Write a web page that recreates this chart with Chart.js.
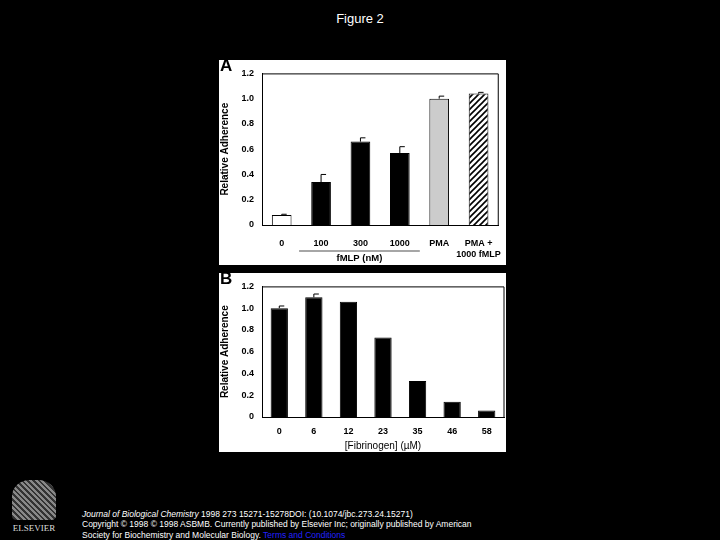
<!DOCTYPE html>
<html><head><meta charset="utf-8">
<script src="https://cdn.jsdelivr.net/npm/chart.js"></script>
<style>
body{margin:0;background:#000;width:720px;height:540px;overflow:hidden;font-family:"Liberation Sans",Arial,sans-serif;position:relative}
.pn{position:absolute;background:#fff}
#t{position:absolute;top:11px;left:0;width:720px;text-align:center;color:#fff;font-size:13px}
.ft{position:absolute;left:82px;color:#fff;font-size:8.5px;line-height:10px;white-space:nowrap}
#logo{position:absolute;left:8px;top:478px;width:52px;height:56px;color:#ddd;font-family:"Liberation Serif",serif;font-size:9px;text-align:center}
#tree{width:44px;height:40px;margin:2px auto 3px;background:repeating-linear-gradient(45deg,#888 0 2px,#333 2px 4px);border-radius:40% 40% 10% 10%}
</style></head><body>
<div id="t">Figure 2</div>
<div class="pn" style="left:219px;top:60px;width:287px;height:205px"><canvas id="a" width="287" height="205"></canvas></div>
<div class="pn" style="left:219px;top:273px;width:287px;height:179px"><canvas id="b" width="287" height="179"></canvas></div>
<div id="logo"><div id="tree"></div>ELSEVIER</div>
<div class="ft" style="top:509px"><i>Journal of Biological Chemistry</i> 1998 273 15271-15278DOI: (10.1074/jbc.273.24.15271)<br>Copyright © 1998 © 1998 ASBMB. Currently published by Elsevier Inc; originally published by American</div>
<div class="ft" style="top:530px">Society for Biochemistry and Molecular Biology. <span style="color:#22f">Terms and Conditions</span></div>
<script>
const catsA=["0","100","300","1000","PMA",["PMA +","1000 fMLP"]];
const valsA=[0.08,0.34,0.66,0.57,1.0,1.04];
const errA=[0.005,0.06,0.03,0.05,0.02,0.01];
const catsB=["0","6","12","23","35","46","58"];
const valsB=[1.0,1.1,1.06,0.73,0.33,0.14,0.06];
const errB=[0.02,0.03,0,0,0,0,0];
const yTicks=[0,0.2,0.4,0.6,0.8,1.0,1.2];

const F='"Liberation Sans",Arial,sans-serif';
function hatch(){const c=document.createElement('canvas');c.width=c.height=6;const x=c.getContext('2d');x.fillStyle='#fff';x.fillRect(0,0,6,6);x.strokeStyle='#000';x.lineWidth=1.6;x.beginPath();x.moveTo(0,6);x.lineTo(6,0);x.moveTo(-3,3);x.lineTo(3,-3);x.moveTo(3,9);x.lineTo(9,3);x.stroke();return x.createPattern(c,'repeat');}
function mk(id,cats,vals,errs,colors,letter,extra,xh,tp){
 const plug={id:'p'+id,afterDatasetsDraw(ch){const c=ch.ctx,a=ch.chartArea,m=ch.getDatasetMeta(0),y=ch.scales.y;
  c.save();c.strokeStyle='#000';c.lineWidth=1;
  c.beginPath();c.moveTo(a.left,a.top+0.5);c.lineTo(a.right,a.top+0.5);c.lineTo(a.right,a.bottom);c.stroke();
  m.data.forEach((b,i)=>{if(!errs[i])return;const yt=y.getPixelForValue(vals[i]+errs[i]);c.beginPath();c.moveTo(b.x,b.y);c.lineTo(b.x,yt);c.moveTo(b.x,yt);c.lineTo(b.x+5,yt);c.stroke();});
  c.fillStyle='#000';c.font='bold 17px '+F;c.textAlign='left';c.textBaseline='top';c.fillText(letter,1,-2);
  if(extra)extra(ch,c,m);c.restore();}};
 new Chart(document.getElementById(id),{type:'bar',data:{labels:cats,datasets:[{data:vals,backgroundColor:colors,borderColor:'#000',borderWidth:1,barPercentage:0.5,categoryPercentage:1}]},
 options:{responsive:false,animation:false,layout:{padding:{top:id=='a'?11:12,right:2}},
  plugins:{legend:{display:false},tooltip:{enabled:false}},
  scales:{y:{min:0,max:1.2,afterBuildTicks(s){s.ticks=yTicks.map(v=>({value:v}));},afterFit(s){s.width=43;},
    grid:{display:false,drawTicks:false},border:{color:'#000'},
    ticks:{color:'#000',font:{family:F,size:9,weight:'bold'},padding:8,callback:v=>v==0?'0':v.toFixed(1)},
    title:{display:true,text:'Relative Adherence',color:'#000',font:{family:F,size:10,weight:'bold'},padding:0}},
   x:{grid:{display:false},border:{color:'#000'},afterFit(s){s.height=xh;},
    ticks:{color:'#000',font:{family:F,size:9,weight:'bold'},padding:tp,maxRotation:0,autoSkip:false}}}},plugins:[plug]});
}
mk('a',catsA,valsA,errA,['#fff','#000','#000','#000','#ccc',hatch()],'A',(ch,c,m)=>{
 const x1=m.data[1].x-22,x2=m.data[3].x+20,yy=ch.chartArea.bottom+26;
 c.lineWidth=0.7;c.beginPath();c.moveTo(x1,yy);c.lineTo(x2,yy);c.stroke();
 c.font='bold 9.5px '+F;c.textAlign='center';c.textBaseline='top';c.fillText('fMLP (nM)',(x1+x2)/2,yy+3);},40,5);
mk('b',catsB,valsB,errB,'#000','B',(ch,c)=>{const a=ch.chartArea;
 c.font='10px '+F;c.textAlign='center';c.textBaseline='top';c.fillText('[Fibrinogen] (µM)',(a.left+a.right)/2,a.bottom+24);},35,1);
</script></body></html>
